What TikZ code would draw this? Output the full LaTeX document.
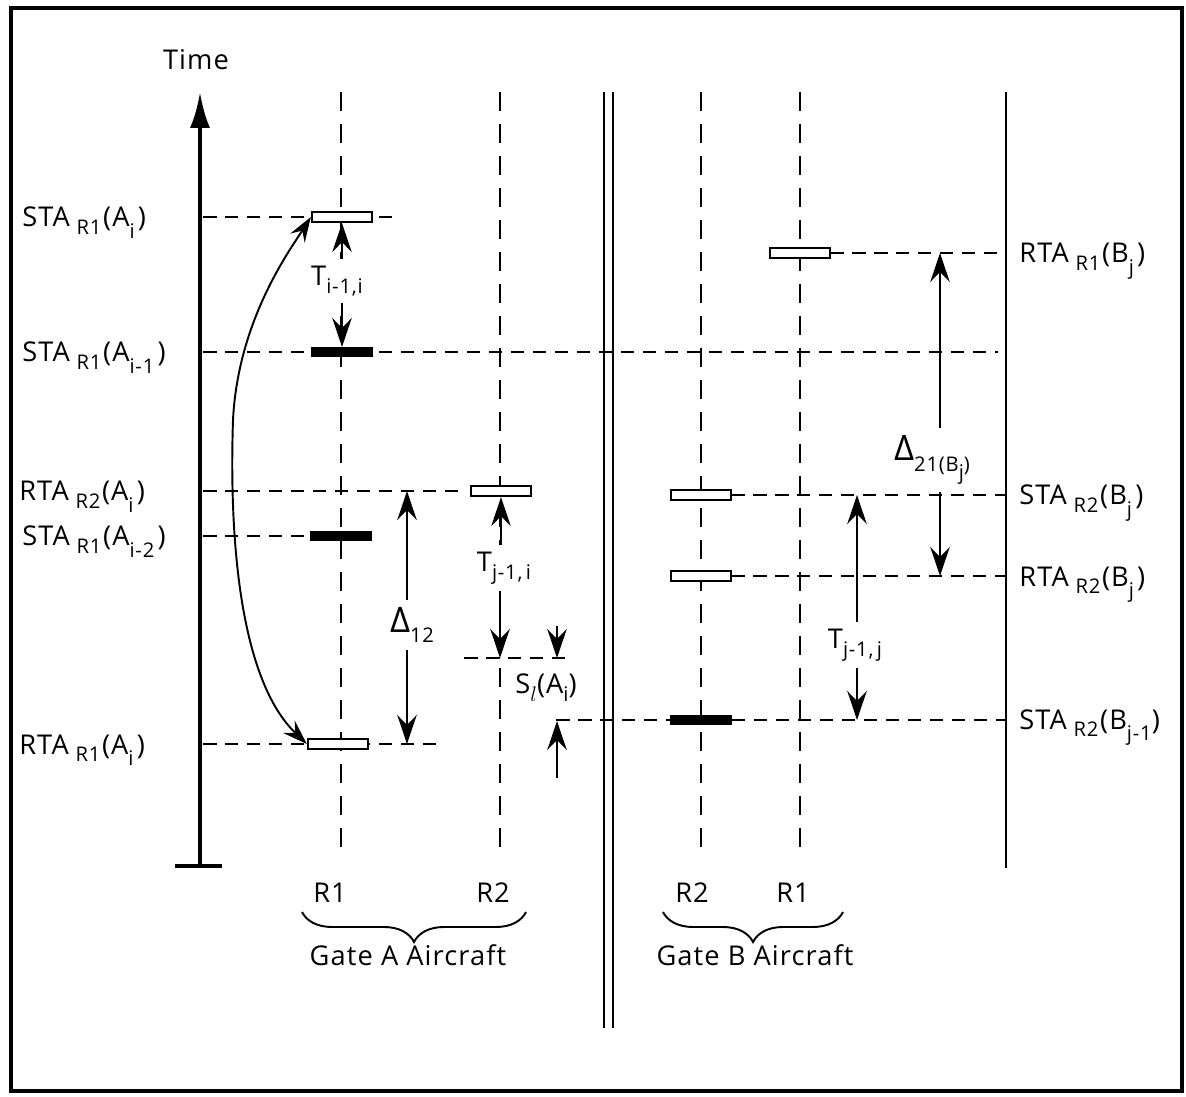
\documentclass[tikz,border=0pt]{standalone}
\usepackage{fontspec}
\setmainfont[LetterSpace=4]{Open Sans}
\newfontfamily\grk{Open Sans}
\usetikzlibrary{arrows.meta,decorations.pathreplacing}
\newcommand\sbx[1]{\raisebox{-4.5pt}{\fontsize{11.5}{12}\selectfont #1}}
\newcommand\sbi[1]{\raisebox{-6.5pt}{\fontsize{11.5}{12}\selectfont #1}}
\newcommand\dsub[1]{\raisebox{-6pt}{\fontsize{11.5}{12}\selectfont #1}}
\newcommand\tl[4]{#1\hspace{0.25em}\sbx{#2}\hspace{0.06em}(#3\sbi{#4}\hspace{0.12em})}
\begin{document}
\begin{tikzpicture}[x=0.02cm,y=-0.02cm,
  font=\fontsize{15.5}{17}\selectfont,
  dsh/.style={dash pattern=on 0.27cm off 0.17cm, line width=1.1pt},
  vdsh/.style={dash pattern=on 0.38cm off 0.26cm, line width=1.1pt},
  obar/.style={draw, fill=white, line width=1.3pt, minimum width=1.2cm, minimum height=0.2cm, inner sep=0pt},
  fbar/.style={draw, fill=black, line width=0.6pt, minimum width=1.22cm, minimum height=0.18cm, inner sep=0pt},
  arr/.style={-{Stealth[length=0.58cm,width=0.39cm,inset=0.2cm]}, line width=1.2pt},
  carr/.style={{Stealth[length=0.5cm,width=0.34cm,inset=0.18cm]}-{Stealth[length=0.5cm,width=0.34cm,inset=0.18cm]}, line width=1.1pt},
  solid line/.style={line width=1.2pt},
  lab/.style={anchor=base west, inner sep=0pt},
  albl/.style={inner sep=4pt, fill=white},
  blbl/.style={anchor=base, inner sep=0pt},
  brc/.style={decorate, decoration={brace, mirror, amplitude=0.6cm}, line width=1.1pt}
]
\useasboundingbox (0,0) rectangle (1186,1097);
% frame
\draw[line width=2.6pt] (11,8) rectangle (1182,1091);

% time axis
\node[blbl] (time) at (196,70) {Time};
\coordinate (axtop) at (200,92);
\coordinate (axbot) at (200,866);
\coordinate (axbl) at (175,866);
\coordinate (axbr) at (222,866);
\draw[line width=2.4pt, -{Latex[length=0.72cm,width=0.4cm]}] (axbot) -- (axtop);
\draw[line width=2.4pt] (axbl) -- (axbr);

% vertical dashed lines
\coordinate (a1t) at (341,92);  \coordinate (a1b) at (341,856);
\coordinate (a2t) at (500,92);  \coordinate (a2b) at (500,856);
\coordinate (b2t) at (701,92);  \coordinate (b2b) at (701,856);
\coordinate (b1t) at (800,92);  \coordinate (b1b) at (800,856);
\draw[vdsh] (a1t) -- (a1b);
\draw[vdsh] (a2t) -- (a2b);
\draw[vdsh] (b2t) -- (b2b);
\draw[vdsh] (b1t) -- (b1b);

% double separator and right line
\coordinate (d1t) at (604,92); \coordinate (d1b) at (604,1028);
\coordinate (d2t) at (613,92); \coordinate (d2b) at (613,1028);
\coordinate (rt) at (1006,92); \coordinate (rb) at (1006,868);
\draw[solid line] (d1t) -- (d1b);
\draw[solid line] (d2t) -- (d2b);
\draw[solid line] (rt) -- (rb);

% horizontal dashed lines
\coordinate (hSA0) at (203,217);  \coordinate (hSA1) at (392,217);
\coordinate (hSB0) at (203,352);  \coordinate (hSB1) at (998,352);
\coordinate (hRA0) at (203,491);  \coordinate (hRA1) at (462,491);
\coordinate (hSC0) at (203,536);  \coordinate (hSC1) at (312,536);
\coordinate (hRD0) at (203,744);  \coordinate (hRD1) at (438,744);
\coordinate (hM0) at (464,658);   \coordinate (hM1) at (566,658);
\coordinate (hQ0) at (556,720);   \coordinate (hQ1) at (1006,720);
\coordinate (hRB0) at (830,253);  \coordinate (hRB1) at (1006,253);
\coordinate (hSE0) at (731,495);  \coordinate (hSE1) at (1006,495);
\coordinate (hRE0) at (731,576);  \coordinate (hRE1) at (1006,576);
\draw[dsh] (hSA0) -- (hSA1);
\draw[dsh] (hSB0) -- (hSB1);
\draw[dsh] (hRA0) -- (hRA1);
\draw[dsh] (hSC0) -- (hSC1);
\draw[dsh] (hRD0) -- (hRD1);
\draw[dsh] (hM0) -- (hM1);
\draw[dsh] (hQ0) -- (hQ1);
\draw[dsh] (hRB0) -- (hRB1);
\draw[dsh] (hSE0) -- (hSE1);
\draw[dsh] (hRE0) -- (hRE1);

% bars
\node[obar] (bSA) at (342,217) {};
\node[fbar] (bSA1) at (342,352) {};
\node[obar] (bRA2) at (501,491) {};
\node[fbar] (bSA2) at (341,536) {};
\node[obar] (bRA1) at (338,744) {};
\node[obar] (bRB1) at (800,253) {};
\node[obar] (bSB2) at (701,495) {};
\node[obar] (bRB2) at (701,576) {};
\node[fbar] (bSBj1) at (701,720) {};

% left labels
\node[lab] (lSA) at (22,227) {\tl{STA}{R1}{A}{i}};
\node[lab] (lSA1) at (22,362) {\tl{STA}{R1}{A}{i-1}};
\node[lab] (lRA2) at (19,501) {\tl{RTA}{R2}{A}{i}};
\node[lab] (lSA2) at (22,546) {\tl{STA}{R1}{A}{i-2}};
\node[lab] (lRA1) at (19,754) {\tl{RTA}{R1}{A}{i}};
% right labels
\node[lab] (rRB1) at (1019,263) {\tl{RTA}{R1}{B}{j}};
\node[lab] (rSB2) at (1019,505) {\tl{STA}{R2}{B}{j}};
\node[lab] (rRB2) at (1019,586) {\tl{RTA}{R2}{B}{j}};
\node[lab] (rSBj1) at (1019,729) {STA\hspace{0.25em}\sbx{R2}\hspace{0.06em}(B\sbi{j-1})};

% curved arrow
\draw[carr] (bSA.west) .. controls (290,250) and (238,320) .. (233,420)
  .. controls (229,540) and (240,680) .. (bRA1.west);

% T_{i-1,i}
\node[albl] (Tii) at (337,281) {T\sbx{i-1,i}};
\draw[arr] (Tii.north -| bSA) -- (bSA.south);
\draw[arr] (Tii.south -| bSA1) -- (bSA1.north);

% Delta_12
\coordinate (d12t) at (407,491);
\coordinate (d12b) at (407,744);
\node[albl] (D12) at (412,625) {{\grk\fontsize{20}{20}\selectfont Δ}\dsub{12}};
\draw[arr] (D12.north -| d12t) -- (d12t);
\draw[arr] (D12.south -| d12b) -- (d12b);

% T_{j-1,i}
\coordinate (tjib) at (500,658);
\node[albl] (Tji) at (504,568) {T\sbx{j-1,\,i}};
\draw[arr] (Tji.north -| bRA2) -- (bRA2.south);
\draw[arr] (Tji.south -| tjib) -- (tjib);

% S_l(A_i)
\coordinate (sl1) at (557,658);
\coordinate (sl0) at (557,626);
\coordinate (sl2) at (557,721);
\coordinate (sl3) at (557,778);
\node (Sl) at (546,688) {S\sbx{$l$}(A\sbx{i})};
\draw[arr] (sl0) -- (sl1);
\draw[arr] (sl3) -- (sl2);

% Delta_21(Bj)
\coordinate (d21t) at (940,253);
\coordinate (d21b) at (940,576);
\node[albl] (D21) at (932,460) {{\grk\fontsize{20}{20}\selectfont Δ}\dsub{21(B\sbx{j})}};
\draw[arr] (D21.north -| d21t) -- (d21t);
\draw[arr] (D21.south -| d21b) -- (d21b);

% T_{j-1,j}
\coordinate (tjjt) at (857,495);
\coordinate (tjjb) at (857,720);
\node[albl] (Tjj) at (855,645) {T\sbx{j-1,\,j}};
\draw[arr] (Tjj.north -| tjjt) -- (tjjt);
\draw[arr] (Tjj.south -| tjjb) -- (tjjb);

% bottom labels
\node[blbl] (R1a) at (330,902) {R1};
\node[blbl] (R2a) at (493,902) {R2};
\node[blbl] (R2b) at (692,902) {R2};
\node[blbl] (R1b) at (793,902) {R1};
\coordinate (ba0) at (302,912); \coordinate (ba1) at (526,912);
\coordinate (bb0) at (663,912); \coordinate (bb1) at (843,912);
\draw[brc] (ba0) -- (ba1);
\draw[brc] (bb0) -- (bb1);
\node[blbl] (gA) at (408,965) {Gate A Aircraft};
\node[blbl] (gB) at (755,965) {Gate B Aircraft};
\end{tikzpicture}
\end{document}
